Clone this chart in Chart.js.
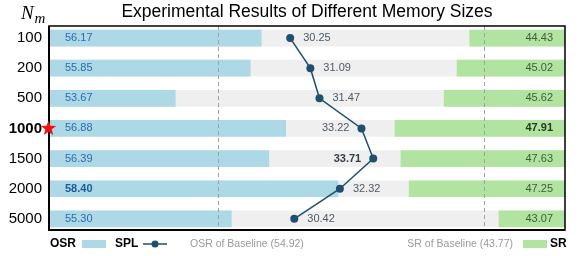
<!DOCTYPE html>
<html>
<head>
<meta charset="utf-8">
<script src="https://cdn.jsdelivr.net/npm/chart.js@4"></script>
<style>
  body { margin: 0; background: #fff; }
</style>
</head>
<body>
<canvas id="chartMem" width="579" height="256"></canvas>
<script>
const memSizes = ['100', '200', '500', '1000', '1500', '2000', '5000'];
const osrValues = [56.17, 55.85, 53.67, 56.88, 56.39, 58.40, 55.30];
const splValues = [30.25, 31.09, 31.47, 33.22, 33.71, 32.32, 30.42];
const srValues = [44.43, 45.02, 45.62, 47.91, 47.63, 47.25, 43.07];
const osrBaseline = 54.92;
const srBaseline = 43.77;
const chosenSize = '1000';

var osrMin = 50, osrMax = 65;
var srMin = 40, srMax = 64;
var splMin = 20.2, splMax = 41.7;

const blueBar = '#add8e6';
const greenBar = '#b2e4a1';
const grayBar = '#efefef';
const lineColor = '#1f4f6e';

function bestIndex(arr) {
  return arr.indexOf(Math.max.apply(null, arr));
}
const osrBest = bestIndex(osrValues);
const splBest = bestIndex(splValues);
const srBest = bestIndex(srValues);

function toPoints(arr) {
  return arr.map(function (v, i) { return { x: v, y: i }; });
}

function drawStar(ctx, cx, cy, rOut, rIn) {
  ctx.beginPath();
  for (let i = 0; i < 10; i++) {
    const r = i % 2 === 0 ? rOut : rIn;
    const a = -Math.PI / 2 + i * Math.PI / 5;
    const px = cx + r * Math.cos(a);
    const py = cy + r * Math.sin(a);
    if (i === 0) ctx.moveTo(px, py); else ctx.lineTo(px, py);
  }
  ctx.closePath();
  ctx.fill();
}

const decorations = {
  id: 'decorations',
  afterDatasetsDraw(chart) {
    const ctx = chart.ctx;
    const area = chart.chartArea;
    const xO = chart.scales.x;
    const xS = chart.scales.xSR;
    const xP = chart.scales.xSPL;
    const y = chart.scales.y;

    // baseline dashes
    ctx.save();
    ctx.strokeStyle = '#a0a0a0';
    ctx.lineWidth = 1;
    ctx.setLineDash([4, 3]);
    [xO.getPixelForValue(osrBaseline), xS.getPixelForValue(srBaseline)].forEach(function (bx) {
      ctx.beginPath();
      ctx.moveTo(Math.round(bx) + 0.5, area.top);
      ctx.lineTo(Math.round(bx) + 0.5, area.bottom);
      ctx.stroke();
    });
    ctx.restore();

    // value labels
    ctx.save();
    ctx.textBaseline = 'middle';
    memSizes.forEach(function (m, i) {
      const py = y.getPixelForValue(i);

      ctx.textAlign = 'left';
      ctx.fillStyle = i === osrBest ? '#1f5a96' : '#2a6db0';
      ctx.font = (i === osrBest ? 'bold ' : '') + '11px "Liberation Sans", Arial, sans-serif';
      ctx.fillText(osrValues[i].toFixed(2), area.left + 16, py);

      ctx.textAlign = 'right';
      ctx.fillStyle = i === srBest ? '#263a22' : '#3d5c38';
      ctx.font = (i === srBest ? 'bold ' : '') + '11px "Liberation Sans", Arial, sans-serif';
      ctx.fillText(srValues[i].toFixed(2), area.right - 12, py);

      const sx = xP.getPixelForValue(splValues[i]);
      const greenStart = xS.getPixelForValue(srValues[i]);
      ctx.fillStyle = i === splBest ? '#333d47' : '#4d5a66';
      ctx.font = (i === splBest ? 'bold ' : '') + '11px "Liberation Sans", Arial, sans-serif';
      if (sx + 45 > greenStart) {
        ctx.textAlign = 'right';
        ctx.fillText(splValues[i].toFixed(2), sx - 12, py);
      } else {
        ctx.textAlign = 'left';
        ctx.fillText(splValues[i].toFixed(2), sx + 13, py);
      }
    });
    ctx.restore();
  },
  afterDraw(chart) {
    const ctx = chart.ctx;
    const area = chart.chartArea;
    const y = chart.scales.y;

    // frame
    ctx.save();
    ctx.strokeStyle = '#000';
    ctx.lineWidth = 1.5;
    ctx.strokeRect(area.left, area.top, area.right - area.left, area.bottom - area.top);
    ctx.lineWidth = 2;
    ctx.beginPath();
    ctx.moveTo(area.left, area.top);
    ctx.lineTo(area.left, area.bottom);
    ctx.lineTo(area.right, area.bottom);
    ctx.stroke();
    ctx.restore();

    // star on chosen memory size
    ctx.save();
    ctx.fillStyle = '#f01010';
    drawStar(ctx, area.left - 0.5, y.getPixelForValue(memSizes.indexOf(chosenSize)), 8, 3.3);
    ctx.restore();

    // title
    ctx.save();
    ctx.fillStyle = '#000';
    ctx.font = '17.5px "Liberation Sans", Arial, sans-serif';
    ctx.textAlign = 'center';
    ctx.textBaseline = 'alphabetic';
    ctx.fillText('Experimental Results of Different Memory Sizes', (area.left + area.right) / 2, 17);

    // N_m
    ctx.textAlign = 'left';
    ctx.font = 'italic 19px "Liberation Serif", "DejaVu Serif", serif';
    ctx.fillText('N', 21, 18.5);
    ctx.font = 'italic 15px "Liberation Serif", "DejaVu Serif", serif';
    ctx.fillText('m', 34.5, 22.5);
    ctx.restore();

    // legend
    const ly = 244;
    ctx.save();
    ctx.textBaseline = 'middle';
    ctx.textAlign = 'left';
    ctx.fillStyle = '#000';
    ctx.font = 'bold 12px "Liberation Sans", Arial, sans-serif';
    ctx.fillText('OSR', 50, ly);
    ctx.fillStyle = blueBar;
    ctx.fillRect(82, ly - 4, 24, 8);
    ctx.fillStyle = '#000';
    ctx.fillText('SPL', 115, ly);
    ctx.strokeStyle = lineColor;
    ctx.lineWidth = 1.5;
    ctx.beginPath();
    ctx.moveTo(143, ly);
    ctx.lineTo(167, ly);
    ctx.stroke();
    ctx.fillStyle = lineColor;
    ctx.beginPath();
    ctx.arc(155, ly, 3.5, 0, Math.PI * 2);
    ctx.fill();

    ctx.fillStyle = '#999';
    ctx.font = '10.5px "Liberation Sans", Arial, sans-serif';
    ctx.fillText('OSR of Baseline (' + osrBaseline.toFixed(2) + ')', 190, ly);
    ctx.textAlign = 'right';
    ctx.fillText('SR of Baseline (' + srBaseline.toFixed(2) + ')', 513, ly);

    ctx.fillStyle = greenBar;
    ctx.fillRect(523, ly - 4, 24, 8);
    ctx.textAlign = 'left';
    ctx.fillStyle = '#000';
    ctx.font = 'bold 12px "Liberation Sans", Arial, sans-serif';
    ctx.fillText('SR', 550, ly);
    ctx.restore();
  }
};

const memData = {
  datasets: [
    {
      type: 'line',
      label: 'SPL',
      data: toPoints(splValues),
      xAxisID: 'xSPL',
      yAxisID: 'y',
      borderColor: lineColor,
      backgroundColor: lineColor,
      borderWidth: 1.5,
      pointRadius: 4,
      pointBackgroundColor: lineColor,
      pointBorderWidth: 0,
      order: 0
    },
    {
      type: 'bar',
      label: 'OSR',
      data: toPoints(osrValues),
      xAxisID: 'x',
      yAxisID: 'y',
      backgroundColor: blueBar,
      barThickness: 16,
      grouped: false,
      order: 1
    },
    {
      type: 'bar',
      label: 'SR',
      data: toPoints(srValues),
      xAxisID: 'xSR',
      yAxisID: 'y',
      backgroundColor: greenBar,
      barThickness: 16,
      grouped: false,
      order: 1
    },
    {
      type: 'bar',
      label: 'bg',
      data: memSizes.map(function (m, i) { return { x: osrMax, y: i }; }),
      xAxisID: 'x',
      yAxisID: 'y',
      backgroundColor: grayBar,
      barThickness: 16,
      grouped: false,
      order: 2
    }
  ]
};

const memConfig = {
  data: memData,
  options: {
    indexAxis: 'y',
    responsive: false,
    animation: false,
    layout: {
      padding: { left: 0, right: 14, top: 26, bottom: 26 }
    },
    scales: {
      y: {
        type: 'linear',
        reverse: true,
        offset: false,
        min: -0.4,
        max: 6.37,
        afterBuildTicks: function (scale) {
          scale.ticks = memSizes.map(function (m, i) { return { value: i }; });
        },
        afterFit: function (scale) {
          scale.width = 49;
        },
        grid: { display: false, drawTicks: false },
        border: { display: false },
        ticks: {
          padding: 7,
          color: '#000',
          callback: function (v) { return memSizes[v]; },
          font: function (c) {
            const bold = c.tick && memSizes[c.tick.value] === chosenSize;
            return { family: '"Liberation Sans", Arial, sans-serif', size: 15, weight: bold ? 'bold' : 'normal' };
          }
        }
      },
      x: { type: 'linear', min: osrMin, max: osrMax, display: false },
      xSR: { type: 'linear', min: srMin, max: srMax, reverse: true, display: false },
      xSPL: { type: 'linear', min: splMin, max: splMax, display: false }
    },
    plugins: {
      legend: { display: false },
      title: { display: false },
      tooltip: { enabled: false }
    }
  },
  plugins: [decorations]
};

var memChart = new Chart(document.getElementById('chartMem'), memConfig);
</script>
</body>
</html>
